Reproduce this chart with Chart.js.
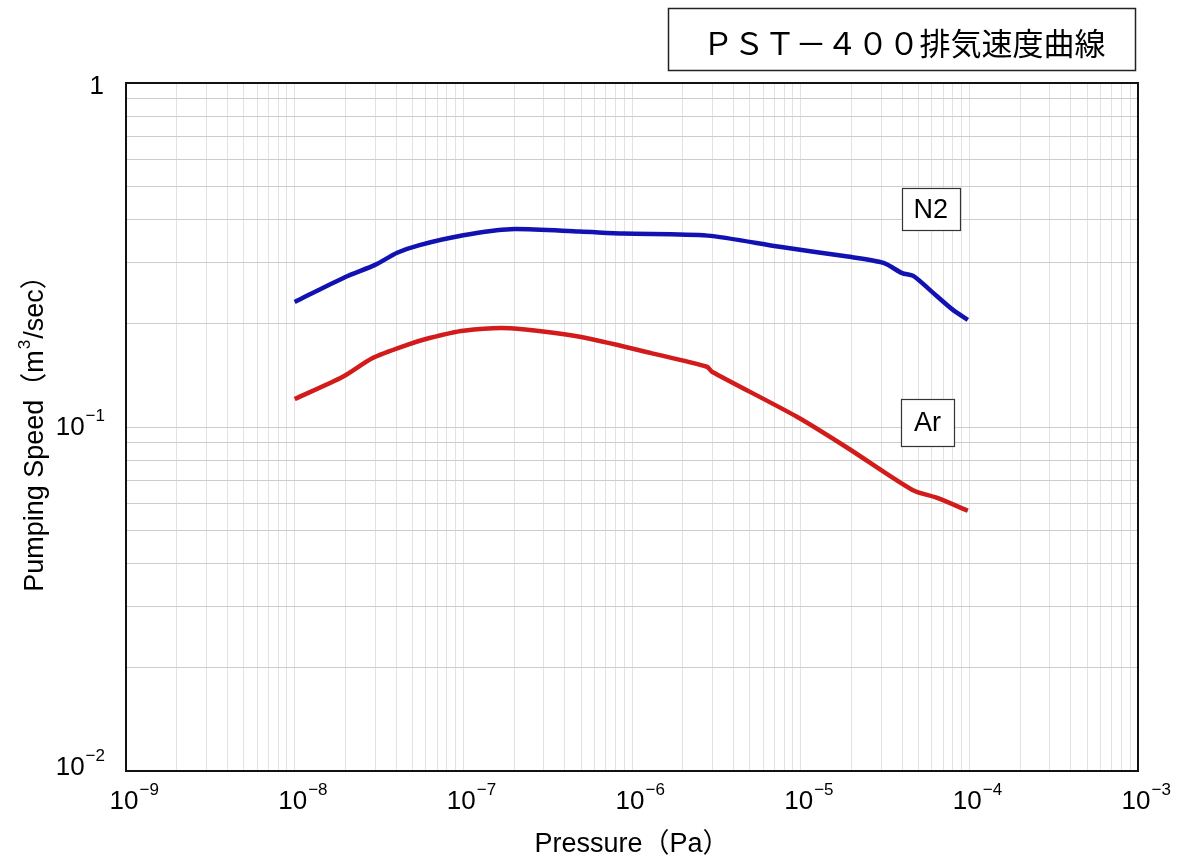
<!DOCTYPE html>
<html>
<head>
<meta charset="utf-8">
<script src="https://cdn.jsdelivr.net/npm/chart.js@4/dist/chart.umd.min.js"></script>
<style>
html,body{margin:0;padding:0;background:#fff;}
#wrap{width:1179px;height:859px;position:relative;}
</style>
</head>
<body>
<div id="wrap"><canvas id="c" width="1179" height="859"></canvas></div>
<script>
// ---- data ----
const titleText = "ＰＳＴ－４００排気速度曲線";
const xTitle = "Pressure（Pa）";
const yTitleParts = ["Pumping Speed（m", "3", "/sec）"];
const xDecades = [-9, -8, -7, -6, -5, -4, -3];
const yDecades = [-2, -1, 0];

const n2Pressure = [1.0e-8, 2.0e-8, 3.0e-8, 4.05e-8, 5.5e-8, 1.0e-7, 1.9e-7, 4.9e-7, 8.9e-7, 2.8e-6, 7.5e-6, 1.9e-5, 3.1e-5, 4.0e-5, 4.65e-5, 5.85e-5, 8.0e-5, 9.8e-5];
const n2Speed    = [0.231, 0.273, 0.296, 0.321, 0.338, 0.361, 0.376, 0.370, 0.365, 0.360, 0.334, 0.313, 0.300, 0.280, 0.275, 0.250, 0.219, 0.205];

const arPressure = [1.0e-8, 1.93e-8, 2.9e-8, 4.6e-8, 6.3e-8, 1.0e-7, 1.9e-7, 4.9e-7, 1.3e-6, 2.78e-6, 2.98e-6, 9.5e-6, 1.9e-5, 4.6e-5, 6.45e-5, 9.8e-5];
const arSpeed    = [0.1206, 0.140, 0.1587, 0.173, 0.1814, 0.1905, 0.1936, 0.183, 0.164, 0.1497, 0.1448, 0.1071, 0.0869, 0.0656, 0.0622, 0.0571];

const seriesLabels = [{text:"N2", x:5.9e-5, y:0.43, w:58, h:42}, {text:"Ar", x:5.65e-5, y:0.103, w:53, h:47}];

function pts(xs, ys){ return xs.map((x,i)=>({x:x, y:ys[i]})); }
function logTicks(decs){
  const t=[];
  for(let i=0;i<decs.length;i++){
    const base=Math.pow(10,decs[i]);
    if(i===decs.length-1){ t.push({value:base}); break; }
    for(let m=1;m<=9;m++) t.push({value:m*base});
  }
  return t;
}

const LATIN = '"Liberation Sans", Arial, sans-serif';
const CJK = '"Noto Sans CJK JP", "Liberation Sans", sans-serif';
const MIX = '"Liberation Sans", "Noto Sans CJK JP", sans-serif';

function drawPow(ctx, x, y, exp, align){
  const base = exp===0 ? "1" : "10";
  const sup = exp===0 ? "" : "\u2212"+Math.abs(exp);
  ctx.font = '26px '+LATIN;
  const wb = ctx.measureText(base).width;
  ctx.font = '17px '+LATIN;
  const ws = ctx.measureText(sup).width;
  let left;
  if(align==='center') left = x - wb/2 - 2;
  else left = x - wb - ws;
  ctx.textBaseline='middle';
  ctx.textAlign='left';
  ctx.font = '26px '+LATIN;
  ctx.fillText(base, left, y);
  if(sup){
    ctx.font = '17px '+LATIN;
    ctx.fillText(sup, left+wb+1, y-12);
  }
}

const deco = {
  id:'deco',
  beforeDraw(chart){
    const ctx=chart.ctx;
    ctx.save(); ctx.fillStyle='#fff'; ctx.fillRect(0,0,chart.width,chart.height); ctx.restore();
  },
  afterDraw(chart){
    const ctx=chart.ctx, a=chart.chartArea, xs=chart.scales.x, ys=chart.scales.y;
    ctx.save();
    ctx.strokeStyle='#111'; ctx.lineWidth=2;
    ctx.strokeRect(a.left, a.top, a.right-a.left, a.bottom-a.top);
    ctx.fillStyle='#000';
    xDecades.forEach(d=>{
      const px = xs.getPixelForValue(Math.pow(10,d));
      drawPow(ctx, px, a.bottom+31, d, 'center');
    });
    yDecades.forEach(d=>{
      const py = ys.getPixelForValue(Math.pow(10,d));
      drawPow(ctx, 104, py+ (d===0?4:(d===-2?-3:1)), d, 'right');
    });
    // x title
    ctx.font='27px '+MIX; ctx.textAlign='center'; ctx.textBaseline='alphabetic';
    ctx.fillText(xTitle, (a.left+a.right)/2, 852);
    // y title
    ctx.save();
    ctx.translate(43, (a.top+a.bottom)/2);
    ctx.rotate(-Math.PI/2);
    ctx.font='27px '+MIX;
    const w0=ctx.measureText(yTitleParts[0]).width;
    ctx.font='17px '+MIX;
    const w1=ctx.measureText(yTitleParts[1]).width;
    ctx.font='27px '+MIX;
    const w2=ctx.measureText(yTitleParts[2]).width;
    let sx=-(w0+w1+w2+2)/2;
    ctx.textAlign='left';
    ctx.fillText(yTitleParts[0], sx, 0);
    ctx.font='17px '+MIX;
    ctx.fillText(yTitleParts[1], sx+w0+1, -13);
    ctx.font='27px '+MIX;
    ctx.fillText(yTitleParts[2], sx+w0+w1+2, 0);
    ctx.restore();
    // title box
    ctx.fillStyle='#fff'; ctx.fillRect(668,8,468,63);
    ctx.strokeStyle='#222'; ctx.lineWidth=1.5; ctx.strokeRect(668.5,8.5,467,62);
    ctx.fillStyle='#000';
    ctx.font='31px '+CJK; ctx.textAlign='center'; ctx.textBaseline='middle';
    ctx.fillText(titleText, 904, 43);
    // series label boxes
    seriesLabels.forEach(l=>{
      const cx=xs.getPixelForValue(l.x), cy=ys.getPixelForValue(l.y);
      ctx.fillStyle='#fff'; ctx.fillRect(cx-l.w/2, cy-l.h/2, l.w, l.h);
      ctx.strokeStyle='#333'; ctx.lineWidth=1.2; ctx.strokeRect(Math.round(cx-l.w/2)+0.5, Math.round(cy-l.h/2)+0.5, l.w, l.h);
      ctx.fillStyle='#000'; ctx.font='27px '+LATIN; ctx.textAlign='center'; ctx.textBaseline='middle';
      ctx.fillText(l.text, cx, cy+1);
    });
    ctx.restore();
  }
};

new Chart(document.getElementById('c'), {
  type:'line',
  data:{
    datasets:[
      {label:'N2', data:pts(n2Pressure,n2Speed), borderColor:'#1212b2', borderWidth:4.5, pointRadius:0, tension:0.25, fill:false},
      {label:'Ar', data:pts(arPressure,arSpeed), borderColor:'#d21c1c', borderWidth:4.5, pointRadius:0, tension:0.25, fill:false}
    ]
  },
  options:{
    responsive:false, animation:false, devicePixelRatio:1,
    layout:{padding:{left:126, right:41, top:83, bottom:88}},
    plugins:{legend:{display:false}, tooltip:{enabled:false}, title:{display:false}},
    scales:{
      x:{type:'logarithmic', min:1e-9, max:1e-3,
         afterBuildTicks:(s)=>{s.ticks=logTicks(xDecades);},
         afterFit:(s)=>{s.height=0;},
         ticks:{display:false},
         grid:{color:'#e2e2e2', lineWidth:1, drawTicks:false},
         border:{display:false}},
      y:{type:'logarithmic', min:1e-2, max:1,
         afterBuildTicks:(s)=>{s.ticks=logTicks(yDecades);},
         afterFit:(s)=>{s.width=0;},
         ticks:{display:false},
         grid:{color:'#cdcdcd', lineWidth:1, drawTicks:false},
         border:{display:false}}
    }
  },
  plugins:[deco]
});
</script>
</body>
</html>
